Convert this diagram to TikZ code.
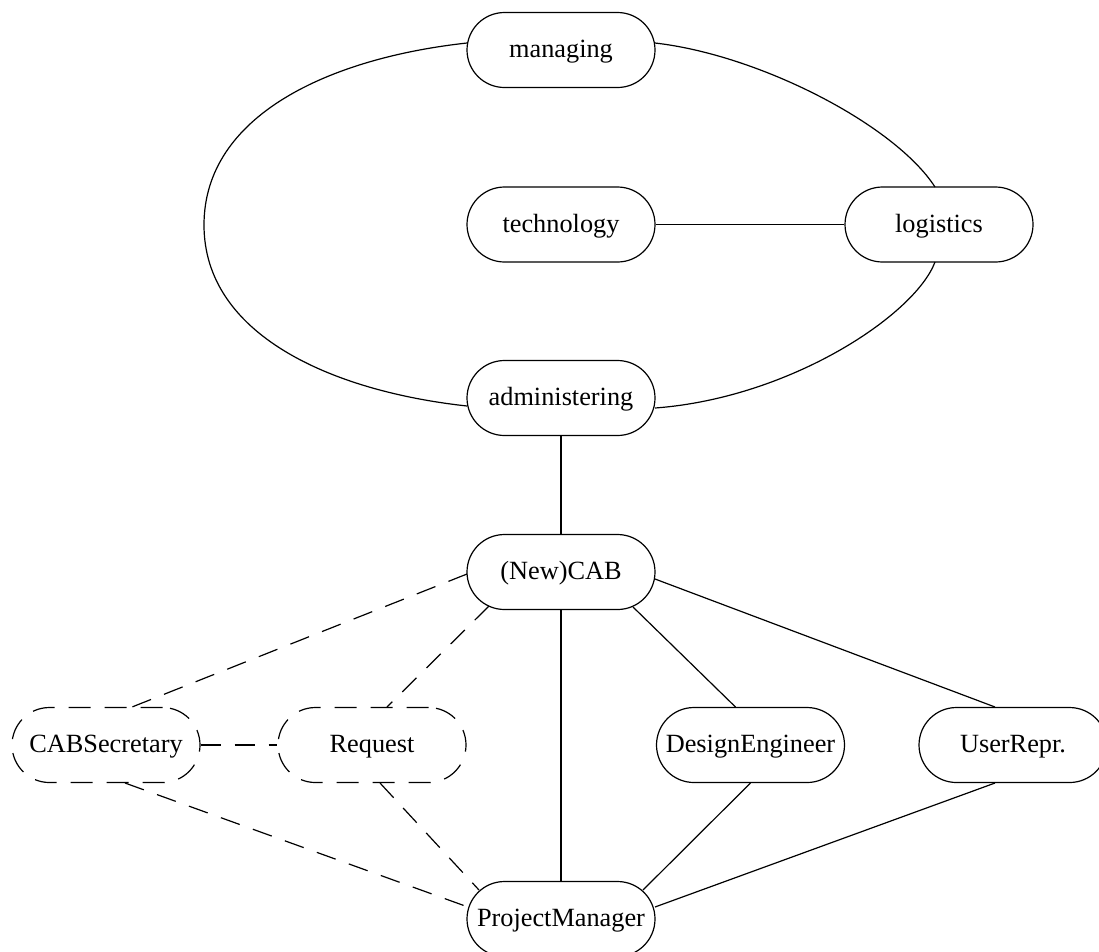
\documentclass[tikz,border=0pt]{standalone}
\usepackage{fontspec}
\setmainfont{Liberation Serif}
\begin{document}
\begin{tikzpicture}[x=1pt,y=-1pt,
  nd/.style={draw, rectangle, rounded corners=37.5pt, minimum width=188pt, minimum height=75pt, inner sep=2pt, text height=20pt, text depth=5pt, line width=1.2pt, font=\fontsize{26.3}{30}\selectfont},
  dnd/.style={nd, dash pattern=on 22pt off 14pt},
  link/.style={line width=1.2pt},
  dlink/.style={link, dash pattern=on 20pt off 14pt}]
\useasboundingbox (0,0) rectangle (1099,951);
\clip (0,0) rectangle (1099,951);
\node[nd] (managing) at (561,50) {managing};
\node[nd] (technology) at (561,224.5) {technology};
\node[nd] (logistics) at (939,224.5) {logistics};
\node[nd] (administering) at (561,398) {administering};
\node[nd] (cab) at (561,572) {(New)CAB};
\node[dnd] (secretary) at (106,745) {CABSecretary};
\node[dnd] (request) at (372,745) {Request};
\node[nd] (designer) at (750.5,745) {DesignEngineer};
\node[nd] (user) at (1013,745) {UserRepr.};
\node[nd] (pm) at (561,919) {ProjectManager};
% curved cycle
\draw[link] ([shift={(94,-7)}]managing.center) .. controls (760,55) and (895,125) .. ([shift={(-4,-37.5)}]logistics.center);
\draw[link] ([shift={(-94,-7)}]managing.center) .. controls (330,58) and (204,115) .. (204,225) .. controls (204,334) and (330,391) .. ([shift={(-94,8)}]administering.center);
\draw[link] ([shift={(-4,37.5)}]logistics.center) .. controls (915,315) and (790,398) .. ([shift={(94,10)}]administering.center);
% straight links
\draw[link] (technology) -- (logistics);
\draw[link] (administering) -- (cab);
\draw[link] (cab) -- (pm);
\draw[link] ([shift={(72,35)}]cab.center) -- ([shift={(-15,-38)}]designer.center);
\draw[link] ([shift={(94,7)}]cab.center) -- ([shift={(-18,-38)}]user.center);
\draw[link] ([shift={(0,38)}]designer.center) -- ([shift={(82,-29)}]pm.center);
\draw[link] ([shift={(-18,38)}]user.center) -- ([shift={(94,-12)}]pm.center);
% dashed links
\draw[dlink] ([shift={(-94,2)}]cab.center) -- ([shift={(26,-38)}]secretary.center);
\draw[dlink] ([shift={(-72,34)}]cab.center) -- ([shift={(15,-38)}]request.center);
\draw[dlink] (secretary.east) -- (request.west);
\draw[dlink] ([shift={(19,38)}]secretary.center) -- ([shift={(-93,-12)}]pm.center);
\draw[dlink] ([shift={(8,38)}]request.center) -- ([shift={(-82,-29)}]pm.center);
\end{tikzpicture}
\end{document}
